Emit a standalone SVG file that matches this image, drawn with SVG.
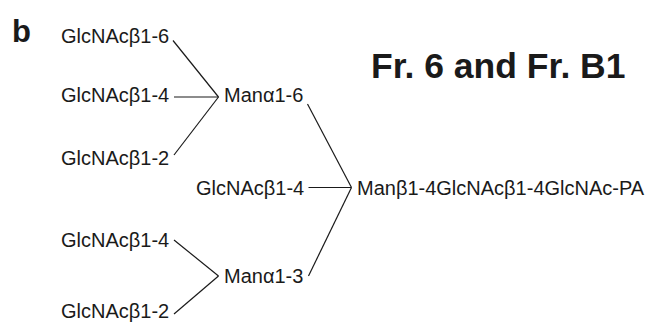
<svg xmlns="http://www.w3.org/2000/svg" width="649" height="323" viewBox="0 0 649 323">
<style>
.t{font-family:"Liberation Sans",Arial,sans-serif;font-size:20px;fill:#1a1a1a}
.b{font-family:"Liberation Sans",Arial,sans-serif;font-weight:bold;fill:#1a1a1a}
.c line{stroke:#1a1a1a;stroke-width:1.2;fill:none}
</style>
<rect width="649" height="323" fill="#fff"/>
<text class="b" x="12" y="42" font-size="31">b</text>
<text class="b" x="371" y="78" font-size="35.5">Fr. 6 and Fr. B1</text>
<g id="n1"><text class="t" x="61" y="43">GlcNAcβ1-6</text></g>
<g id="n2"><text class="t" x="61" y="102">GlcNAcβ1-4</text></g>
<g id="n3"><text class="t" x="61" y="165">GlcNAcβ1-2</text></g>
<g id="m6"><text class="t" x="224" y="102">Manα1-6</text></g>
<g id="n4"><text class="t" x="196" y="195">GlcNAcβ1-4</text></g>
<g id="core"><text class="t" x="357" y="195">Manβ1-4GlcNAcβ1-4GlcNAc-PA</text></g>
<g id="n5"><text class="t" x="61" y="247">GlcNAcβ1-4</text></g>
<g id="m3"><text class="t" x="224" y="283">Manα1-3</text></g>
<g id="n6"><text class="t" x="61" y="318">GlcNAcβ1-2</text></g>
<g class="c" id="connectors">
<line x1="173" y1="40.5" x2="218.5" y2="97"/>
<line x1="174" y1="97" x2="218.5" y2="97"/>
<line x1="174" y1="155" x2="218.5" y2="97"/>
<line x1="307.5" y1="104" x2="351.5" y2="187.5"/>
<line x1="308.5" y1="187.5" x2="351.5" y2="187.5"/>
<line x1="308.5" y1="276" x2="351.5" y2="187.5"/>
<line x1="174" y1="240" x2="218.5" y2="276"/>
<line x1="174" y1="314" x2="218.5" y2="276"/>
</g>
</svg>
